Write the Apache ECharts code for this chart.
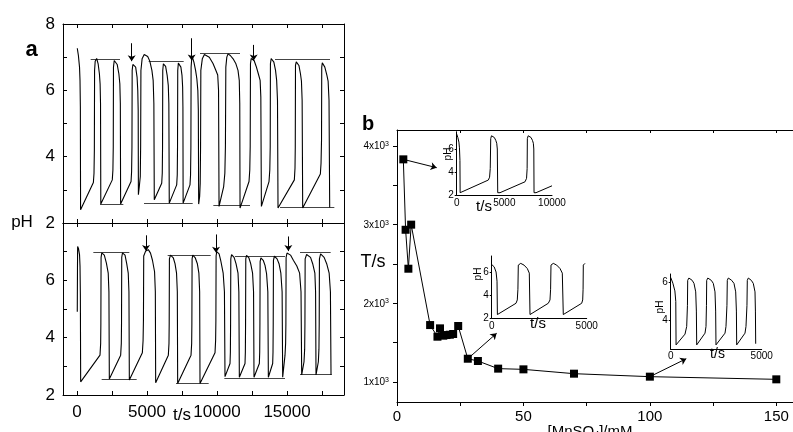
<!DOCTYPE html>
<html><head><meta charset="utf-8">
<script src="https://cdn.jsdelivr.net/npm/echarts@6/dist/echarts.min.js"></script>
<style>html,body{margin:0;padding:0;background:#fff}#c{width:793px;height:432px}</style>
</head><body><div id="c"></div>
<script>
// ---------- Panel a, upper trace: [t/s, pH] ----------
const topTrace = [
 [20,7.27],[100,7.05],[180,6.7],[215,6.3],[240,5.5],[255,2.4],
 [1170,3.22],[1215,3.5],[1240,4.2],[1255,6.6],[1300,6.88],[1405,6.96],[1510,6.8],[1600,6.5],[1650,6.2],[1680,5.6],[1700,2.57],
 [2520,3.3],[2565,3.6],[2590,4.3],[2605,6.7],[2660,6.9],[2760,6.93],[2870,6.78],[2990,6.5],[3060,6.2],[3095,5.6],[3115,2.57],
 [3860,3.25],[3900,3.55],[3925,4.3],[3940,6.6],[3990,6.78],[4095,6.83],[4190,6.7],[4290,6.4],[4340,6.0],[4370,5.4],[4385,2.85],
 [4450,3.1],[4520,3.4],[4545,4.3],[4565,6.6],[4650,6.95],[4800,7.08],[4905,7.1],[5050,7.02],[5200,6.88],[5350,6.6],[5440,6.3],[5490,5.6],[5520,2.7],
 [6050,3.2],[6090,3.5],[6110,4.3],[6125,6.6],[6170,6.8],[6220,6.86],[6330,6.72],[6440,6.45],[6520,6.15],[6560,5.6],[6590,2.6],
 [7120,3.15],[7160,3.45],[7180,4.3],[7195,6.6],[7240,6.82],[7310,6.88],[7420,6.7],[7500,6.45],[7545,6.1],[7565,5.5],[7580,2.6],
 [8070,3.15],[8110,3.45],[8135,4.3],[8150,6.7],[8190,6.93],[8240,7.0],[8350,6.85],[8470,6.6],[8560,6.35],[8630,6.0],[8665,5.4],[8690,2.57],
 [8760,2.8],[8800,3.2],[8825,4.3],[8845,6.6],[8950,6.95],[9100,7.08],[9240,7.1],[9450,7.0],[9714,6.81],[9900,6.62],[10050,6.46],[10110,6.0],[10145,2.5],
 [10476,3.1],[10560,3.5],[10600,4.3],[10630,6.7],[10700,7.0],[10786,7.1],[10950,7.05],[11150,6.95],[11350,6.8],[11500,6.6],[11590,6.3],[11625,5.6],[11645,2.45],
 [12286,3.25],[12340,3.6],[12370,4.3],[12390,6.8],[12440,6.96],[12500,7.0],[12650,6.9],[12800,6.72],[12950,6.5],[13080,6.3],[13130,5.8],[13170,2.5],
 [13714,3.25],[13770,3.6],[13800,4.3],[13815,6.8],[13870,6.96],[13952,7.0],[14060,6.85],[14180,6.6],[14260,6.3],[14320,5.7],[14357,2.45],
 [15524,3.3],[15570,3.65],[15590,4.3],[15605,6.75],[15660,6.86],[15738,6.89],[15850,6.75],[15960,6.5],[16030,6.28],[16080,5.7],[16119,2.45],
 [17381,3.48],[17430,3.8],[17465,4.5],[17480,6.7],[17520,6.83],[17571,6.86],[17700,6.7],[17850,6.45],[17935,6.28],[18000,5.7],[18048,2.47]
];
// reference lines: [t start, t end, pH]
const topRefs = [[976,3071,6.94],[1643,3310,2.57],[5119,7619,6.89],[4786,8262,2.61],[8786,11643,7.12],[9738,12357,2.54],[14143,18071,6.93],[14500,18381,2.47]];
// addition arrows: [t, pH from, pH to]
const topArrows = [[3905,7.42,6.88],[8190,7.57,6.9],[12619,7.37,6.9]];

// ---------- Panel a, lower trace ----------
const bottomTrace = [
 [20,4.9],[35,6.5],[45,7.18],[110,7.1],[180,6.9],[215,6.5],[240,5.5],[262,2.46],
 [1643,3.39],[1690,3.8],[1705,4.5],[1720,6.8],[1770,6.96],[1833,7.0],[1950,6.88],[2100,6.6],[2230,6.25],[2280,5.6],[2309,2.56],
 [3119,3.39],[3165,3.8],[3180,4.5],[3195,6.8],[3250,6.96],[3310,6.99],[3430,6.88],[3550,6.58],[3660,6.25],[3710,5.6],[3738,2.52],
 [4667,3.47],[4720,3.9],[4745,4.6],[4765,6.85],[4900,7.02],[5095,7.07],[5250,6.95],[5390,6.7],[5540,6.3],[5595,5.6],[5619,2.43],
 [6524,3.39],[6570,3.8],[6585,4.5],[6600,6.75],[6680,6.88],[6762,6.9],[6880,6.78],[7000,6.58],[7110,6.25],[7165,5.6],[7190,2.4],
 [8143,3.39],[8190,3.8],[8205,4.5],[8220,6.75],[8270,6.88],[8310,6.9],[8450,6.78],[8595,6.58],[8705,6.25],[8760,5.6],[8786,2.4],
 [9857,3.47],[9900,3.9],[9920,4.6],[9935,6.85],[9980,7.0],[10024,7.04],[10150,6.92],[10262,6.7],[10440,6.25],[10530,5.6],[10571,2.64],
 [10929,3.1],[10955,3.5],[10970,4.5],[10985,6.75],[11040,6.9],[11095,6.93],[11220,6.8],[11357,6.58],[11500,6.25],[11560,5.6],[11595,2.62],
 [12000,3.1],[12025,3.5],[12040,4.5],[12055,6.75],[12110,6.87],[12167,6.9],[12280,6.78],[12405,6.58],[12540,6.25],[12610,5.6],[12643,2.62],
 [13024,3.1],[13050,3.5],[13065,4.5],[13080,6.65],[13135,6.78],[13190,6.81],[13300,6.7],[13429,6.52],[13540,6.23],[13630,5.6],[13667,2.62],
 [13976,3.1],[14000,3.5],[14015,4.5],[14030,6.7],[14100,6.84],[14167,6.87],[14290,6.75],[14429,6.58],[14560,6.25],[14650,5.6],[14690,2.62],
 [14857,3.39],[14900,3.8],[14920,4.5],[14935,6.8],[15000,6.95],[15095,6.99],[15250,6.88],[15452,6.7],[15700,6.5],[15900,6.25],[16000,5.6],[16048,2.7],
 [16214,3.16],[16260,3.6],[16280,4.5],[16295,6.75],[16400,6.9],[16524,6.95],[16680,6.8],[16833,6.58],[16990,6.25],[17040,5.6],[17071,2.7],
 [17238,3.16],[17280,3.6],[17300,4.5],[17315,6.75],[17400,6.92],[17476,6.96],[17650,6.8],[17833,6.58],[18010,6.25],[18100,5.6],[18143,2.7]
];
const bottomRefs = [[1167,3738,6.99],[1762,4262,2.54],[6476,9548,6.89],[7071,9405,2.41],[11286,14857,6.85],[10524,14857,2.6],[15929,18119,6.99],[15929,18190,2.71]];
const bottomArrows = [[4929,7.57,7.02],[9929,7.6,6.96],[15095,7.53,7.02]];

// ---------- Panel b: period vs [MnSO4] ----------
const mnConc  = [2.5,3.4,4.5,5.6,13.1,16,17,18.3,19.6,20.9,22.2,24.2,28,32,40,50,70,100,150];
const periodT = [3830,2935,2440,3000,1724,1576,1682,1589,1597,1601,1610,1712,1296,1267,1170,1161,1106,1068,1034];
// arrows from points to insets: [[x0,T0],[x1,T1]]
const bArrows = [[[2.5,3830],[15.7,3724]],[[28,1296],[39.4,1619]],[[100,1068],[114.4,1296]]];

// ---------- Insets: [t/s, pH] ----------
const inset1 = [[0,7.3],[120,7.0],[230,6.6],[290,6.1],[340,5.0],[360,2.2],[525,2.2],[3318,3.3],[3450,3.55],[3520,4.3],[3570,6.9],[3650,7.15],[3780,7.2],[3950,7.0],[4100,6.75],[4200,6.5],[4260,6.0],[4305,2.2],[4546,2.2],[7171,3.15],[7330,3.45],[7390,4.3],[7413,6.9],[7500,7.15],[7623,7.2],[7800,7.0],[7950,6.75],[8043,6.5],[8090,6.0],[8116,2.2],[8326,2.2],[10000,2.8]];
const inset2 = [[0,6.65],[130,6.45],[230,6.0],[280,5.2],[300,2.3],[347,2.35],[1279,3.28],[1347,3.57],[1380,4.5],[1400,6.6],[1460,6.72],[1526,6.75],[1700,6.6],[1874,6.3],[1979,5.9],[2016,2.3],[2105,2.35],[2979,3.28],[3068,3.57],[3100,4.5],[3121,6.6],[3180,6.72],[3242,6.75],[3420,6.6],[3595,6.3],[3716,5.9],[3768,2.3],[3858,2.35],[4737,3.28],[4789,3.57],[4810,4.5],[4821,6.6],[4870,6.72],[4910,6.75]];
const inset3 = [[0,6.25],[120,5.95],[230,5.55],[280,5.0],[295,2.74],[363,2.7],[786,3.3],[879,3.7],[920,4.8],[934,6.1],[1000,6.22],[1060,6.25],[1180,6.1],[1280,5.94],[1374,5.5],[1410,4.5],[1429,2.74],
 [1516,2.7],[1885,3.35],[1940,3.7],[1965,4.8],[1978,6.1],[2040,6.22],[2104,6.25],[2230,6.1],[2341,5.94],[2434,5.5],[2470,4.5],[2489,2.74],
 [2582,2.7],[2984,3.35],[3038,3.7],[3090,4.8],[3110,6.1],[3165,6.22],[3220,6.25],[3350,6.1],[3478,5.94],[3571,5.5],[3610,4.5],[3626,2.74],
 [3714,2.7],[4082,3.35],[4137,3.7],[4190,4.8],[4209,6.1],[4265,6.22],[4319,6.25],[4430,6.1],[4538,5.94],[4632,5.5],[4655,4.5],[4670,2.8]];

// tick / label values
const aTimeTicks = [0,2500,5000,7500,10000,12500,15000,17500];
const aTimeLabels = [0,5000,10000,15000];
const aPHTicks = [2,3,4,5,6,7,8];
const aPHLabelsTop = [2,4,6,8];
const aPHLabelsBottom = [2,4,6];
const bTTicks = [1000,1500,2000,2500,3000,3500,4000];
const bTLabels = [1000,2000,3000,4000];

const FONT = '"Liberation Sans", Arial, sans-serif';
const BLACK = '#000';
const plain = v => String(v);

function ax(o) {
  const base = {type:'value', splitLine:{show:false}, minorTick:{show:false},
    axisLine:{show:true, onZero:false, lineStyle:{color:BLACK, width:1}},
    axisTick:{show:false}, axisLabel:{show:false}};
  return Object.assign(base, o);
}
function ticks(vals, inside, len) { return {show:true, inside:inside, length:len, customValues:vals, lineStyle:{color:BLACK, width:1}}; }
function labels(vals, size, margin, fmt) {
  return {show:true, customValues:vals, fontSize:size, margin:margin, color:BLACK, fontFamily:FONT, formatter: fmt || plain};
}

const xAxes = [
  ax({gridIndex:0, position:'bottom', min:-1000, max:19070, axisTick:ticks(aTimeTicks,true,4)}),
  ax({gridIndex:0, position:'top', min:-1000, max:19070, axisTick:ticks(aTimeTicks,true,4)}),
  ax({gridIndex:1, position:'bottom', min:-1000, max:19070, axisTick:ticks(aTimeTicks,true,4), axisLabel:labels(aTimeLabels,17,9)}),
  ax({gridIndex:1, position:'top', min:-1000, max:19070, axisTick:ticks(aTimeTicks,true,4)}),
  ax({gridIndex:2, position:'bottom', min:0, max:157, interval:25, axisTick:{show:true, inside:false, length:4, lineStyle:{color:BLACK}},
      axisLabel:{show:true, fontSize:15, margin:7, color:BLACK, fontFamily:FONT, formatter:v => (v % 50 === 0 ? String(v) : '')}}),
  ax({gridIndex:2, position:'top', min:0, max:157, interval:25, axisTick:{show:true, inside:true, length:3, lineStyle:{color:BLACK}}}),
  ax({gridIndex:3, min:0, max:10000, axisLabel:labels([0,5000,10000],10,3)}),
  ax({gridIndex:4, min:0, max:5000, axisLabel:labels([0,5000],10,3)}),
  ax({gridIndex:5, min:0, max:5000, axisLabel:labels([0,5000],10,2)})
];
const yAxes = [
  ax({gridIndex:0, position:'left', min:2, max:8, axisTick:ticks(aPHTicks,true,4), axisLabel:labels(aPHLabelsTop,17,8)}),
  ax({gridIndex:0, position:'right', min:2, max:8, axisTick:ticks(aPHTicks,true,4)}),
  ax({gridIndex:1, position:'left', min:2, max:8, axisTick:ticks(aPHTicks,true,4), axisLabel:labels(aPHLabelsBottom,17,8)}),
  ax({gridIndex:1, position:'right', min:2, max:8, axisTick:ticks(aPHTicks,true,4)}),
  ax({gridIndex:2, position:'left', min:746, max:4203, axisTick:ticks(bTTicks,false,4),
      axisLabel:Object.assign(labels(bTLabels,10,8, v => '{m|' + Math.round(v/1000) + 'x10}{s|3}'),
        {rich:{m:{fontSize:10, fontFamily:FONT, color:BLACK, verticalAlign:'bottom'}, s:{fontSize:7, fontFamily:FONT, color:BLACK, verticalAlign:'top', padding:[0,0,4,0]}}})}),
  ax({gridIndex:3, min:2, max:7.5, axisTick:ticks([2,4,6],false,2), axisLabel:labels([2,4,6],10,3)}),
  ax({gridIndex:4, min:2, max:7.39, axisTick:ticks([2,4,6],false,2), axisLabel:labels([2,4,6],10,3)}),
  ax({gridIndex:5, min:2.5, max:6.43, axisTick:ticks([4,6],false,2), axisLabel:labels([4,6],10,3)})
];

function trace(data, xi, yi, w) {
  return {type:'line', xAxisIndex:xi, yAxisIndex:yi, data:data, symbol:'none', showSymbol:false,
    lineStyle:{color:BLACK, width:w || 1.1}, silent:true, animation:false, z:3};
}
function refLines(refs, xi, yi) {
  return {type:'lines', coordinateSystem:'cartesian2d', xAxisIndex:xi, yAxisIndex:yi,
    data: refs.map(r => ({coords:[[r[0], r[2]], [r[1], r[2]]]})),
    symbol:'none', lineStyle:{color:'#444', width:1, opacity:1, curveness:0}, silent:true, animation:false, z:2};
}
function arrowLines(segs, xi, yi, size) {
  return {type:'lines', coordinateSystem:'cartesian2d', xAxisIndex:xi, yAxisIndex:yi,
    data: segs.map(s => ({coords:s})), symbol:['none','arrow'], symbolSize:size,
    lineStyle:{color:BLACK, width:1, opacity:1, curveness:0}, silent:true, animation:false, z:4};
}

const series = [
  trace(topTrace, 0, 0),
  refLines(topRefs, 0, 0),
  arrowLines(topArrows.map(a => [[a[0], a[1]], [a[0], a[2]]]), 0, 0, 6),
  trace(bottomTrace, 2, 2),
  refLines(bottomRefs, 2, 2),
  arrowLines(bottomArrows.map(a => [[a[0], a[1]], [a[0], a[2]]]), 2, 2, 6),
  {type:'line', xAxisIndex:4, yAxisIndex:4, data: mnConc.map((x, i) => [x, periodT[i]]),
    symbol:'rect', symbolSize:8, showSymbol:true, itemStyle:{color:BLACK}, lineStyle:{color:BLACK, width:1},
    silent:true, animation:false, z:3},
  arrowLines(bArrows, 4, 4, 6),
  trace(inset1, 6, 5, 1),
  trace(inset2, 7, 6, 1),
  trace(inset3, 8, 7, 1)
];

function txt(t, x, y, font, rot, extra) {
  return {type:'text', x:x, y:y, rotation:rot || 0, silent:true,
    style:Object.assign({text:t, font:font, fill:BLACK, align:'center', verticalAlign:'middle'}, extra || {})};
}
const graphics = [
  txt('a', 31.5, 50, 'bold 22px ' + FONT),
  txt('pH', 22, 222, '17px ' + FONT),
  txt('t/s', 182, 415, '17px ' + FONT),
  txt('b', 368, 124, 'bold 20px ' + FONT),
  txt('T/s', 373, 262, '18px ' + FONT),
  {type:'text', x:590, y:432, silent:true, style:{text:'[MnSO{s|4}]/mM', font:'15px ' + FONT, fill:BLACK, align:'center', verticalAlign:'middle',
     rich:{s:{fontSize:9, fontFamily:FONT, fill:BLACK, verticalAlign:'bottom'}}}},
  txt('t/s', 484, 207, '15px ' + FONT),
  txt('pH', 448, 154, '10px ' + FONT, Math.PI/2),
  txt('t/s', 538, 324, '15px ' + FONT),
  txt('pH', 478, 274, '10px ' + FONT, Math.PI/2),
  txt('t/s', 717.5, 354, '14px ' + FONT),
  txt('pH', 660, 307, '10px ' + FONT, Math.PI/2)
];

const g = (l, t, w, h) => ({left:l, top:t, width:w, height:h, containLabel:false, outerBoundsMode:'none', show:false});
const option = {
  animation:false,
  backgroundColor:'#fff',
  textStyle:{fontFamily:FONT, color:BLACK},
  grid:[g(63,24,281,199), g(63,223,281,172), g(397,130,397,272), g(456.7,131.75,95.3,63.25), g(491.7,256,95,62), g(670.7,274,91,75.5)],
  xAxis:xAxes,
  yAxis:yAxes,
  series:series,
  graphic:graphics
};
const chart = echarts.init(document.getElementById('c'));
chart.setOption(option);
</script>
</body></html>
